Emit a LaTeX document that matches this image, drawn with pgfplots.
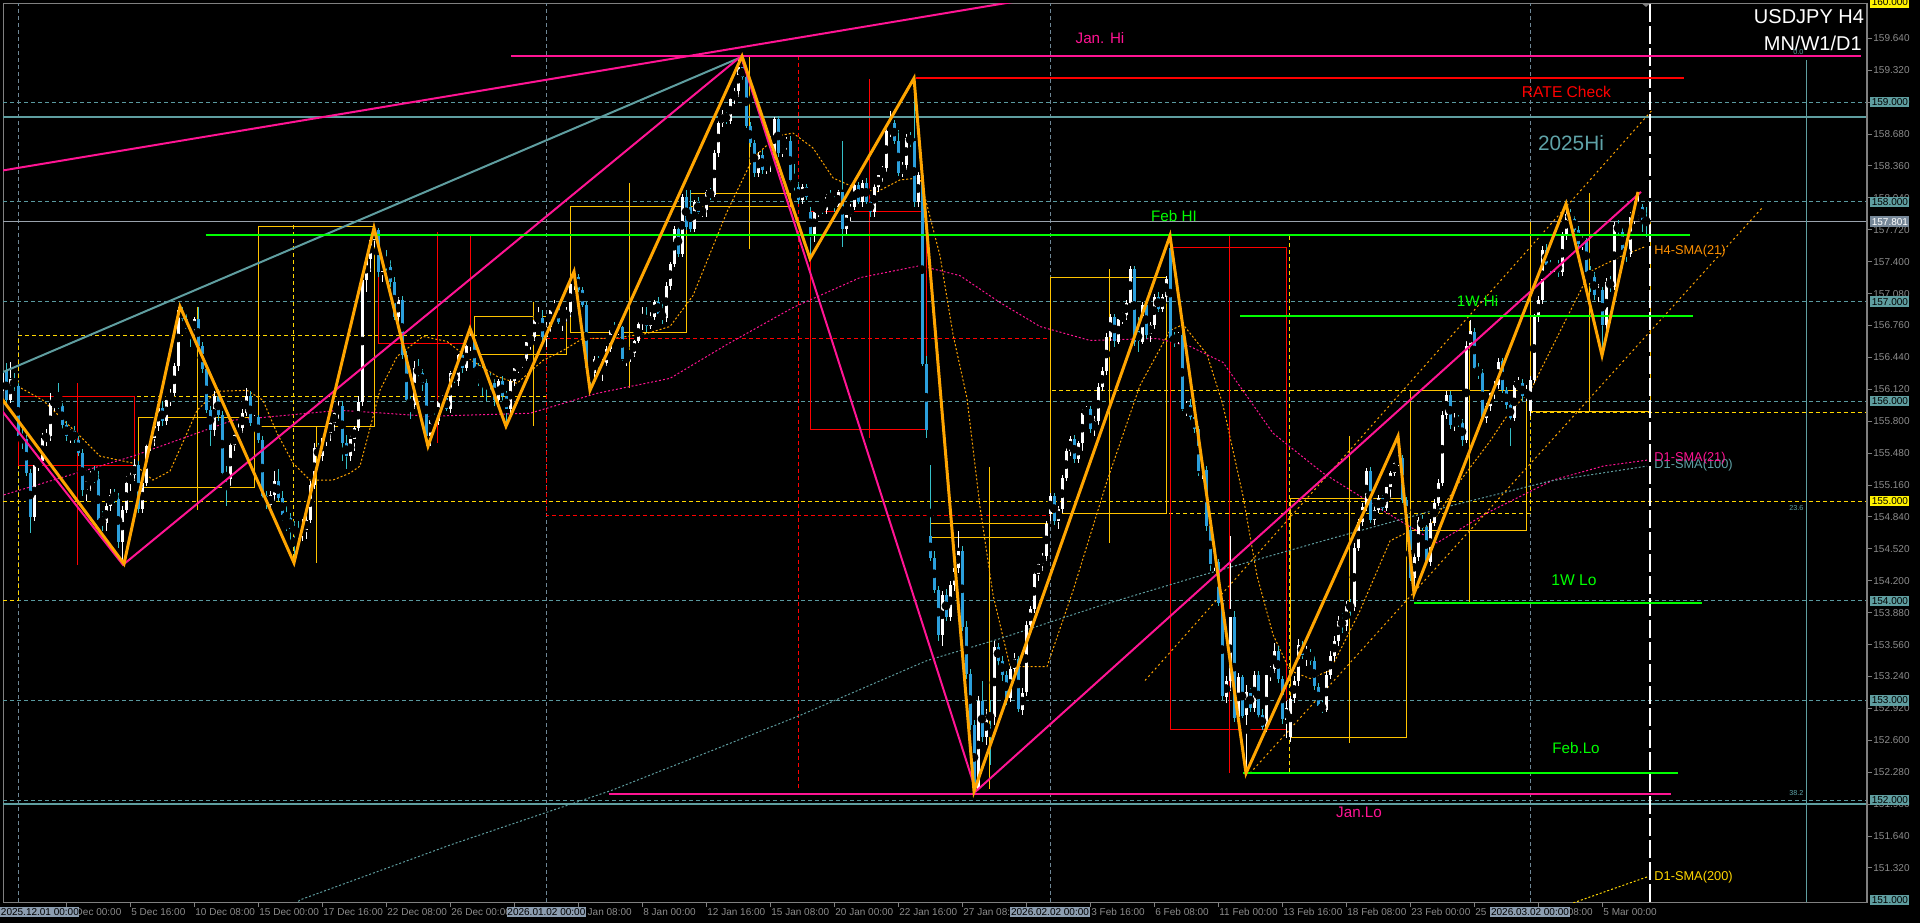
\documentclass[border=0pt]{standalone}
\usepackage{fontspec}
\setmainfont{Liberation Sans}
\usepackage{pgfplots}
\usepackage{pgfplotstable}
\pgfplotsset{compat=1.18}
\newcommand\fs[1]{\fontsize{#1}{#1}\selectfont}
\definecolor{axgray}{HTML}{808080}
\definecolor{tickgray}{HTML}{8C8C8C}
\definecolor{gridteal}{HTML}{5A9AA0}
\definecolor{vgrid}{HTML}{6F8796}
\definecolor{gold}{HTML}{FFD700}
\definecolor{boxgold}{HTML}{FFC400}
\definecolor{zig}{HTML}{FFA500}
\definecolor{dpink}{HTML}{FF1493}
\definecolor{limeg}{HTML}{00FF00}
\definecolor{tealline}{HTML}{5F9EA0}
\definecolor{tealtext}{HTML}{5FA3A8}
\definecolor{bearbody}{HTML}{2B9FDC}
\definecolor{bearwick}{HTML}{35C0C8}
\definecolor{curgray}{HTML}{9AA3AD}
\definecolor{lblteal}{HTML}{5F9EA0}
\definecolor{lblslate}{HTML}{778899}
\definecolor{datebox}{HTML}{8C9DB0}
\definecolor{redc}{HTML}{FF0000}
\definecolor{orangetxt}{HTML}{FF9100}
\pgfplotstableread{
i o h l c
0 156.10 156.35 156.05 156.30
1 156.30 156.38 155.98 156.01
2 156.01 156.40 155.98 156.22
3 156.22 156.28 156.10 156.15
4 156.15 156.18 155.60 155.65
5 155.65 155.72 155.52 155.62
6 155.62 155.66 155.25 155.28
7 155.28 155.32 154.68 154.84
8 154.84 155.40 154.80 155.36
9 155.36 155.45 155.30 155.40
10 155.40 155.68 155.38 155.63
11 155.63 155.72 155.55 155.65
12 155.65 156.08 155.60 155.98
13 155.98 156.05 155.90 156.00
14 156.00 156.18 155.92 155.95
15 155.95 155.98 155.72 155.76
16 155.76 155.80 155.60 155.65
17 155.65 155.72 155.58 155.70
18 155.70 155.75 155.58 155.61
19 155.61 155.65 155.45 155.48
20 155.48 155.52 155.05 155.11
21 155.11 155.22 155.00 155.20
22 155.20 155.30 155.10 155.25
23 155.25 155.35 155.18 155.22
24 155.22 155.30 154.78 154.81
25 154.81 154.90 154.70 154.78
26 154.78 154.98 154.70 154.95
27 154.95 155.12 154.90 155.06
28 155.06 155.12 154.98 155.02
29 155.02 155.08 154.53 154.59
30 154.59 154.95 154.36 154.91
31 154.91 155.25 154.88 155.18
32 155.18 155.33 155.10 155.26
33 155.26 155.42 155.20 155.36
34 155.36 155.40 154.88 154.92
35 154.92 155.22 154.88 155.18
36 155.18 155.58 155.15 155.55
37 155.55 155.68 155.50 155.63
38 155.63 155.78 155.55 155.75
39 155.75 155.98 155.70 155.93
40 155.93 156.00 155.75 155.80
41 155.80 156.05 155.76 156.01
42 156.01 156.12 155.95 156.08
43 156.08 156.38 156.05 156.35
44 156.35 156.95 156.30 156.92
45 156.92 156.95 156.78 156.83
46 156.83 156.88 156.68 156.72
47 156.72 156.78 156.55 156.70
48 156.70 156.85 156.65 156.83
49 156.83 156.95 156.52 156.55
50 156.55 156.60 156.28 156.32
51 156.32 156.35 155.88 155.91
52 155.91 155.95 155.55 155.71
53 155.71 156.10 155.65 156.05
54 156.05 156.12 155.80 155.86
55 155.86 155.90 155.25 155.28
56 155.28 155.35 154.95 155.22
57 155.22 155.60 155.15 155.56
58 155.56 155.70 155.50 155.66
59 155.66 155.78 155.60 155.73
60 155.73 155.92 155.68 155.88
61 155.88 156.13 155.85 156.05
62 156.05 156.10 155.75 155.78
63 155.78 155.86 155.70 155.84
64 155.84 155.86 155.58 155.61
65 155.61 155.65 155.02 155.05
66 155.05 155.10 154.92 154.96
67 154.96 155.10 154.90 155.06
68 155.06 155.30 155.00 155.20
69 155.20 155.32 155.00 155.03
70 155.03 155.10 154.80 154.86
71 154.86 154.95 154.70 154.83
72 154.83 154.88 154.60 154.72
73 154.72 154.80 154.38 154.70
74 154.70 154.80 154.55 154.68
75 154.68 154.82 154.60 154.71
76 154.71 154.85 154.62 154.81
77 154.81 155.20 154.78 155.16
78 155.16 155.58 155.12 155.53
79 155.53 155.58 155.42 155.45
80 155.45 155.65 155.40 155.63
81 155.63 155.72 155.55 155.68
82 155.68 155.82 155.60 155.78
83 155.78 155.92 155.70 155.88
84 155.88 156.00 155.82 155.95
85 155.95 156.00 155.40 155.58
86 155.58 155.66 155.32 155.45
87 155.45 155.68 155.40 155.62
88 155.62 155.75 155.50 155.73
89 155.73 156.05 155.70 155.99
90 155.99 157.25 155.95 157.22
91 157.22 157.45 157.10 157.43
92 157.43 157.65 157.30 157.62
93 157.62 157.76 157.55 157.72
94 157.72 157.74 157.25 157.30
95 157.30 157.42 157.20 157.40
96 157.40 157.52 157.30 157.35
97 157.35 157.42 157.15 157.20
98 157.20 157.25 156.82 156.85
99 156.85 157.05 156.80 157.02
100 157.02 157.06 156.42 156.46
101 156.46 156.50 155.98 156.01
102 156.01 156.05 155.82 155.96
103 155.96 156.40 155.92 156.33
104 156.33 156.42 156.20 156.28
105 156.28 156.32 156.10 156.18
106 156.18 156.22 155.55 155.65
107 155.65 155.82 155.55 155.81
108 155.81 155.90 155.75 155.80
109 155.80 156.02 155.76 156.00
110 156.00 156.06 155.95 156.03
111 156.03 156.06 155.90 155.92
112 155.92 156.30 155.88 156.28
113 156.28 156.35 156.18 156.20
114 156.20 156.48 156.15 156.46
115 156.46 156.50 156.28 156.33
116 156.33 156.62 156.30 156.56
117 156.56 156.73 156.50 156.62
118 156.62 156.65 156.30 156.33
119 156.33 156.38 156.15 156.30
120 156.30 156.35 156.05 156.28
121 156.28 156.32 156.00 156.25
122 156.25 156.28 156.10 156.18
123 156.18 156.22 155.95 156.01
124 156.01 156.22 155.95 156.20
125 156.20 156.25 156.00 156.05
126 156.05 156.10 155.75 155.92
127 155.92 156.22 155.88 156.20
128 156.20 156.35 156.15 156.33
129 156.33 156.40 156.28 156.38
130 156.38 156.45 156.33 156.43
131 156.43 156.62 156.40 156.60
132 156.60 156.66 156.52 156.65
133 156.65 156.85 156.60 156.82
134 156.82 156.95 156.75 156.84
135 156.84 156.92 156.60 156.65
136 156.65 156.80 156.55 156.75
137 156.75 156.95 156.70 156.92
138 156.92 157.02 156.86 156.95
139 156.95 156.98 156.78 156.80
140 156.80 156.90 156.70 156.85
141 156.85 156.95 156.80 156.90
142 156.90 157.20 156.85 157.18
143 157.18 157.30 157.12 157.25
144 157.25 157.28 157.10 157.12
145 157.12 157.15 156.95 156.97
146 156.97 157.00 156.30 156.33
147 156.33 156.36 156.11 156.28
148 156.28 156.45 156.20 156.43
149 156.43 156.46 156.32 156.35
150 156.35 156.42 156.20 156.38
151 156.38 156.56 156.35 156.53
152 156.53 156.75 156.50 156.72
153 156.72 156.80 156.65 156.70
154 156.70 156.78 156.66 156.74
155 156.74 156.76 156.40 156.42
156 156.42 156.50 156.35 156.45
157 156.45 156.55 156.40 156.48
158 156.48 156.62 156.45 156.60
159 156.60 156.80 156.58 156.78
160 156.78 156.95 156.72 156.85
161 156.85 156.95 156.70 156.76
162 156.76 156.90 156.72 156.85
163 156.85 157.02 156.82 157.00
164 157.00 157.05 156.85 156.88
165 156.88 157.00 156.78 156.84
166 156.84 157.20 156.80 157.16
167 157.16 157.40 157.12 157.38
168 157.38 157.76 157.35 157.73
169 157.73 157.78 157.45 157.48
170 157.48 158.08 157.45 158.05
171 158.05 158.12 157.72 157.75
172 157.95 158.12 157.70 157.73
173 157.73 158.02 157.70 158.00
174 158.00 158.05 157.88 157.90
175 157.90 157.95 157.85 157.92
176 157.92 158.12 157.85 158.10
177 158.10 158.14 158.02 158.07
178 158.07 158.52 158.05 158.49
179 158.49 158.82 158.45 158.79
180 158.79 158.92 158.75 158.88
181 158.88 158.92 158.78 158.81
182 158.81 159.05 158.78 159.03
183 159.03 159.14 158.98 159.11
184 159.11 159.45 159.05 159.35
185 159.35 159.46 159.22 159.25
186 159.25 159.33 158.74 158.76
187 158.76 158.80 158.55 158.59
188 158.59 158.62 158.25 158.29
189 158.29 158.50 158.25 158.47
190 158.47 158.52 158.28 158.32
191 158.32 158.42 158.28 158.39
192 158.39 158.66 158.30 158.42
193 158.42 158.85 158.40 158.83
194 158.83 158.86 158.45 158.49
195 158.49 158.60 158.45 158.57
196 158.57 158.65 158.52 158.61
197 158.61 158.66 158.18 158.22
198 158.22 158.38 158.10 158.15
199 158.15 158.20 157.98 158.02
200 158.02 158.18 157.98 158.15
201 158.15 158.18 158.02 158.05
202 157.90 157.95 157.43 157.68
203 157.68 157.92 157.60 157.90
204 157.90 157.97 157.85 157.95
205 157.95 158.00 157.88 157.92
206 157.92 158.08 157.88 158.05
207 158.05 158.12 157.98 158.02
208 158.02 158.06 157.90 157.95
209 157.95 158.12 157.90 158.10
210 158.10 158.61 157.55 157.73
211 157.73 157.92 157.68 157.87
212 157.87 157.98 157.80 157.95
213 157.95 158.18 157.92 158.17
214 158.17 158.20 157.98 158.00
215 158.00 158.22 157.95 158.19
216 158.19 158.24 157.98 158.00
217 158.00 158.05 157.85 157.90
218 157.90 158.18 157.85 158.15
219 158.15 158.30 158.10 158.27
220 158.27 158.36 158.20 158.34
221 158.34 158.74 158.30 158.71
222 158.71 158.91 158.65 158.79
223 158.79 158.82 158.58 158.61
224 158.61 158.72 158.26 158.29
225 158.29 158.40 158.25 158.37
226 158.37 158.68 158.32 158.64
227 158.64 158.70 158.55 158.61
228 158.61 159.24 157.95 158.00
229 158.00 158.30 157.95 158.27
230 158.27 158.32 156.35 156.37
231 156.37 156.45 155.63 155.71
232 154.65 155.36 154.40 154.43
233 154.43 154.50 154.08 154.11
234 154.11 154.15 153.60 153.66
235 153.66 154.10 153.55 154.06
236 154.06 154.12 153.80 153.84
237 153.84 154.20 153.80 154.16
238 154.16 154.38 154.10 154.33
239 154.33 154.70 154.28 154.50
240 154.50 154.55 153.70 153.74
241 153.74 153.80 153.22 153.27
242 153.27 153.32 152.70 152.75
243 152.75 152.80 152.09 152.11
244 152.11 153.05 152.10 153.00
245 153.00 153.20 152.58 152.63
246 152.63 152.92 152.55 152.85
247 152.85 153.00 152.35 152.83
248 152.83 153.60 152.75 153.54
249 153.54 153.58 153.35 153.40
250 153.40 153.45 153.20 153.26
251 153.26 153.30 152.95 153.02
252 153.02 153.38 152.98 153.32
253 153.32 153.48 153.28 153.42
254 153.42 153.45 152.88 152.91
255 152.91 153.12 152.85 153.08
256 153.08 153.80 153.05 153.76
257 153.76 153.95 153.70 153.92
258 153.92 154.30 153.88 154.27
259 154.27 154.40 154.20 154.37
260 154.37 154.48 154.30 154.45
261 154.45 154.80 154.40 154.77
262 154.87 155.08 154.80 155.05
263 155.05 155.08 154.76 154.80
264 154.80 154.95 154.72 154.92
265 154.92 155.26 154.88 155.23
266 155.23 155.53 155.20 155.50
267 155.50 155.65 155.45 155.62
268 155.62 155.66 155.38 155.42
269 155.42 155.60 155.38 155.58
270 155.58 155.92 155.50 155.88
271 155.88 155.95 155.80 155.92
272 155.92 155.95 155.68 155.72
273 155.72 155.85 155.65 155.80
274 155.80 156.18 155.76 156.14
275 156.14 156.34 156.10 156.30
276 156.30 156.68 156.26 156.65
277 156.65 156.88 156.60 156.85
278 156.85 156.88 156.55 156.60
279 156.60 156.85 156.58 156.83
280 156.83 156.90 156.78 156.87
281 156.87 157.02 156.82 156.99
282 156.99 157.36 156.95 157.33
283 157.33 157.36 156.55 156.59
284 156.70 156.85 156.50 156.60
285 156.60 157.00 156.58 156.97
286 156.97 157.00 156.62 156.67
287 156.67 156.80 156.60 156.77
288 156.77 157.08 156.72 157.05
289 157.05 157.10 156.90 156.93
290 156.93 157.08 156.90 157.05
291 157.05 157.26 157.00 157.23
292 157.54 157.66 156.60 156.63
293 156.63 156.70 156.55 156.62
294 156.62 156.70 156.58 156.66
295 156.66 156.70 155.90 155.92
296 155.92 156.00 155.85 155.96
297 155.96 156.02 155.80 155.84
298 155.84 155.90 155.68 155.72
299 155.72 155.75 155.25 155.30
300 155.30 155.42 155.22 155.31
301 155.31 155.35 154.70 154.75
302 154.75 154.80 154.30 154.37
303 154.37 154.45 154.30 154.39
304 154.39 154.42 153.95 153.98
305 153.98 154.02 153.00 153.04
306 153.04 153.25 152.98 153.20
307 153.20 154.65 153.10 153.84
308 153.84 153.90 152.78 152.83
309 152.83 153.28 152.80 153.24
310 153.24 153.26 152.82 152.85
311 152.85 153.15 152.27 153.08
312 153.08 153.12 152.88 152.93
313 152.93 153.30 152.88 153.26
314 153.26 153.30 152.82 152.85
315 152.85 152.92 152.70 152.73
316 152.73 153.30 152.68 153.26
317 153.26 153.35 153.20 153.32
318 153.32 153.58 153.28 153.50
319 153.50 153.55 153.18 153.22
320 153.22 153.25 152.76 152.81
321 152.81 153.00 152.62 152.93
322 152.63 153.05 152.58 153.02
323 153.02 153.25 152.98 153.20
324 153.20 153.62 153.15 153.56
325 153.56 153.60 153.42 153.46
326 153.46 153.55 153.35 153.48
327 153.48 153.52 153.36 153.40
328 153.40 153.45 153.10 153.14
329 153.14 153.18 152.92 152.95
330 152.95 153.00 152.88 152.91
331 152.91 153.30 152.88 153.26
332 153.26 153.50 153.22 153.45
333 153.45 153.65 153.40 153.60
334 153.60 153.85 153.55 153.80
335 153.80 153.88 153.68 153.75
336 153.75 154.00 153.70 153.95
337 153.95 154.02 153.85 153.94
338 153.94 154.58 153.90 154.53
339 154.53 154.82 154.50 154.79
340 154.79 154.98 154.75 154.94
341 154.94 155.33 154.90 155.30
342 155.30 155.34 154.78 154.81
343 154.81 154.95 154.76 154.91
344 154.91 155.06 154.88 155.03
345 155.03 155.06 154.90 154.93
346 154.93 155.16 154.90 155.14
347 155.14 155.30 155.02 155.28
348 155.28 155.42 155.25 155.38
349 155.38 155.65 155.35 155.43
350 155.43 155.46 154.98 155.01
351 155.01 155.04 154.78 154.81
352 154.71 154.75 154.20 154.23
353 154.23 154.48 154.07 154.44
354 154.44 154.84 154.40 154.81
355 154.81 154.86 154.70 154.74
356 154.74 154.76 154.36 154.39
357 154.39 154.82 154.35 154.78
358 154.78 155.02 154.75 154.98
359 154.98 155.22 154.95 155.18
360 155.18 155.90 155.15 155.86
361 155.86 156.10 155.82 156.06
362 156.06 156.10 155.72 155.76
363 155.76 155.88 155.70 155.83
364 155.83 155.86 155.74 155.78
365 155.78 155.82 155.55 155.61
366 155.61 156.60 155.58 156.56
367 156.56 156.82 156.50 156.70
368 156.70 156.74 156.30 156.33
369 156.33 156.38 156.22 156.28
370 156.28 156.32 155.80 155.83
371 155.83 155.98 155.78 155.95
372 155.95 156.12 155.90 156.08
373 156.08 156.20 156.02 156.16
374 156.16 156.44 156.12 156.40
375 156.40 156.44 156.08 156.11
376 156.11 156.14 155.92 155.96
377 155.96 156.00 155.55 155.83
378 155.83 156.20 155.80 156.16
379 156.16 156.24 156.10 156.18
380 156.18 156.22 156.00 156.05
381 156.05 156.16 156.00 156.11
382 155.90 156.25 155.85 156.21
383 156.21 156.88 156.18 156.85
384 156.85 157.06 156.80 157.02
385 157.02 157.56 156.98 157.52
386 157.52 157.58 157.34 157.37
387 157.37 157.42 157.28 157.33
388 157.33 157.40 157.30 157.38
389 157.38 157.42 157.25 157.30
390 157.30 157.70 157.26 157.67
391 157.67 157.98 157.62 157.88
392 157.88 157.93 157.76 157.83
393 157.83 157.86 157.70 157.72
394 157.72 157.76 157.55 157.58
395 157.58 157.66 157.52 157.62
396 157.62 157.64 157.28 157.30
397 157.30 157.36 157.10 157.25
398 157.25 157.30 157.02 157.07
399 157.07 157.18 157.00 157.12
400 157.12 157.15 156.46 156.77
401 156.77 157.24 156.70 157.20
402 157.20 157.26 157.10 157.15
403 157.15 157.80 157.12 157.77
404 157.77 157.82 157.66 157.70
405 157.70 157.74 157.45 157.52
406 157.52 157.58 157.40 157.48
407 157.48 157.90 157.45 157.85
408 157.85 157.92 157.78 157.88
409 157.88 158.10 157.82 157.95
410 157.95 157.98 157.70 157.82
411 157.82 157.95 157.65 157.80
}\candles
\begin{document}
\begin{tikzpicture}
\fill[black] (0,0) rectangle (960pt,461.5pt);
\useasboundingbox (0,0) rectangle (960pt,461.5pt);
\begin{axis}[
  at={(1.5pt,10.5pt)}, anchor=origin,
  x=2pt, y=49.86pt,
  xmin=0.25, xmax=466.25, ymin=150.9788, ymax=159.994,
  clip mode=individual,
  axis line style={draw=axgray, line width=0.5pt},
  xtick pos=bottom, ytick pos=right, yticklabel pos=right,
  tick align=outside, major tick length=2.5pt,
  tick style={draw=axgray, line width=0.5pt},
  xtick={0,16,...,400},
  xticklabels={{},3 Dec 00:00,5 Dec 16:00,10 Dec 08:00,15 Dec 00:00,17 Dec 16:00,22 Dec 08:00,26 Dec 00:00,30 Dec 16:00,5 Jan 08:00,8 Jan 00:00,12 Jan 16:00,15 Jan 08:00,20 Jan 00:00,22 Jan 16:00,27 Jan 08:00,30 Jan 00:00,3 Feb 16:00,6 Feb 08:00,11 Feb 00:00,13 Feb 16:00,18 Feb 08:00,23 Feb 00:00,25 Feb 16:00,2 Mar 08:00,5 Mar 00:00},
  ytick={151.32,151.64,151.96,152.28,152.60,152.92,153.24,153.56,153.88,154.20,154.52,154.84,155.16,155.48,155.80,156.12,156.44,156.76,157.08,157.40,157.72,158.04,158.36,158.68,159.00,159.32,159.64},
  yticklabels={151.320,151.640,151.960,152.280,152.600,152.920,153.240,153.560,153.880,154.200,154.520,154.840,155.160,155.480,155.800,156.120,156.440,156.760,157.080,157.400,157.720,158.040,158.360,158.680,159.000,159.320,159.640},
  ticklabel style={font=\fs{5}, text=tickgray, inner sep=0.5pt},
  xticklabel style={anchor=north west},
  yticklabel style={anchor=west},
  /pgf/number format/assume math mode=true,
]
% ---- grid lines
\pgfplotsinvokeforeach{152,153,154,156,157,158,159}{
  \addplot[gridteal, line width=0.5pt, dash pattern=on 2pt off 1.5pt] coordinates {(0.25,#1)(466.25,#1)};
}
\addplot[gold, line width=0.5pt, dash pattern=on 2pt off 1.5pt] coordinates {(0.25,155)(466.25,155)};
\pgfplotsinvokeforeach{4,136.1,262,382}{
  \addplot[vgrid, line width=0.5pt, dash pattern=on 2pt off 1.5pt] coordinates {(#1,150.9788)(#1,159.994)};
}
% ---- monthly boxes (dashed)
\addplot[gold, line width=0.5pt, dash pattern=on 2pt off 1.5pt] coordinates {(4,156.05)(136,156.05)(136,156.66)(4,156.66)(4,154.0)(0.25,154.0)};
\addplot[gold, line width=0.5pt, dash pattern=on 2pt off 1.5pt] coordinates {(72.75,157.77)(72.75,154.36)};
\addplot[redc, line width=0.5pt, dash pattern=on 2pt off 1.5pt] coordinates {(136,156.63)(262,156.63)(262,154.85)(136,154.85)(136,156.63)};
\addplot[redc, line width=0.5pt, dash pattern=on 2pt off 1.5pt] coordinates {(199,159.46)(199,152.09)};
\addplot[gold, line width=0.5pt, dash pattern=on 2pt off 1.5pt] coordinates {(262,154.87)(382,154.87)(382,156.11)(262,156.11)(262,154.87)};
\addplot[gold, line width=0.5pt, dash pattern=on 2pt off 1.5pt] coordinates {(321.75,157.66)(321.75,152.26)};
\addplot[gold, line width=0.5pt, dash pattern=on 2pt off 1.5pt] coordinates {(382,157.80)(382,155.89)(466.25,155.89)};
% ---- weekly boxes
\addplot[redc, line width=0.5pt] coordinates {(4,156.05)(33.1,156.05)(33.1,155.36)(4,155.36)(4,156.05)};
\addplot[redc, line width=0.5pt] coordinates {(18.8,156.18)(18.8,154.36)};
\addplot[boxgold, line width=0.5pt] coordinates {(34.1,155.84)(63.1,155.84)(63.1,155.14)(34.1,155.14)(34.1,155.84)};
\addplot[boxgold, line width=0.5pt] coordinates {(48.9,156.95)(48.9,154.91)};
\addplot[boxgold, line width=0.5pt] coordinates {(64.1,155.75)(93.1,155.75)(93.1,157.75)(64.1,157.75)(64.1,155.75)};
\addplot[boxgold, line width=0.5pt] coordinates {(78.7,155.75)(78.7,154.38)};
\addplot[redc, line width=0.5pt] coordinates {(94.1,157.67)(117.2,157.67)(117.2,156.58)(94.1,156.58)(94.1,157.67)};
\addplot[redc, line width=0.5pt] coordinates {(108.8,157.70)(108.8,155.58)};
\addplot[boxgold, line width=0.5pt] coordinates {(118,156.47)(141.2,156.47)(141.2,156.85)(118,156.85)(118,156.47)};
\addplot[boxgold, line width=0.5pt] coordinates {(132.75,157.0)(132.75,155.75)};
\addplot[boxgold, line width=0.5pt] coordinates {(142,156.69)(171.2,156.69)(171.2,157.95)(142,157.95)(142,156.69)};
\addplot[boxgold, line width=0.5pt] coordinates {(156.75,158.19)(156.75,156.13)};
\addplot[boxgold, line width=0.5pt] coordinates {(172,157.95)(197,157.95)(197,158.08)(172,158.08)(172,157.95)};
\addplot[boxgold, line width=0.5pt] coordinates {(186.8,159.45)(186.8,157.53)};
\addplot[redc, line width=0.5pt] coordinates {(202.2,157.90)(231.2,157.90)(231.2,155.72)(202.2,155.72)(202.2,157.90)};
\addplot[redc, line width=0.5pt] coordinates {(216.8,159.23)(216.8,155.63)};
\addplot[boxgold, line width=0.5pt] coordinates {(232,154.63)(261.25,154.63)(261.25,154.77)(232,154.77)(232,154.63)};
\addplot[boxgold, line width=0.5pt] coordinates {(246.8,155.34)(246.8,152.11)};
\addplot[boxgold, line width=0.5pt] coordinates {(262,154.87)(291.2,154.87)(291.2,157.24)(262,157.24)(262,154.87)};
\addplot[boxgold, line width=0.5pt] coordinates {(276.75,157.33)(276.75,154.58)};
\addplot[redc, line width=0.5pt] coordinates {(292,157.54)(321.2,157.54)(321.2,152.71)(292,152.71)(292,157.54)};
\addplot[redc, line width=0.5pt] coordinates {(306.8,157.66)(306.8,152.27)};
\addplot[boxgold, line width=0.5pt] coordinates {(322,152.63)(351.2,152.63)(351.2,155.03)(322,155.03)(322,152.63)};
\addplot[boxgold, line width=0.5pt] coordinates {(336.75,155.65)(336.75,152.57)};
\addplot[boxgold, line width=0.5pt] coordinates {(352,154.70)(381.2,154.70)(381.2,156.11)(352,156.11)(352,154.70)};
\addplot[boxgold, line width=0.5pt] coordinates {(366.75,156.81)(366.75,153.98)};
\addplot[boxgold, line width=0.5pt] coordinates {(382.2,155.90)(412,155.90)(412,157.80)(382.2,157.80)(382.2,155.90)};
\addplot[boxgold, line width=0.5pt] coordinates {(396.8,158.09)(396.8,155.90)};
% ---- fixed level lines
\addplot[tealline, line width=1pt] coordinates {(0.25,158.85)(466.25,158.85)};
\addplot[tealline, line width=1pt] coordinates {(0.25,151.96)(466.25,151.96)};
\addplot[curgray, line width=0.5pt] coordinates {(0.25,157.80)(466.25,157.80)};
\addplot[tealline, line width=0.5pt] coordinates {(451.1,159.42)(451.1,150.9788)};
\addplot[white, line width=0.6pt, dash pattern=on 9pt off 2pt] coordinates {(412,150.9788)(412,159.994)};
% ---- moving averages (dotted)
\addplot[zig, line width=0.5pt, dash pattern=on 1pt off 1pt] coordinates {
(1.25,156.21)(10.25,156.01)(18.75,155.68)(24.5,155.45)(32.75,155.38)(37.75,155.21)(42,155.30)(46.25,155.68)(48.75,155.91)(53.75,156.10)(61.25,156.11)(65.25,156.01)(68.75,155.68)(72.75,155.38)(77,155.21)(82.75,155.21)(87,155.28)(89.5,155.35)(94.5,156.11)(98.75,156.45)(105.25,156.65)(111.25,156.60)(117,156.42)(123.75,156.25)(128.75,156.18)(135.25,156.41)(140.25,156.51)(145.25,156.63)(152.75,156.63)(161.25,156.68)(167,156.75)(172.75,157.06)(181.25,157.90)(187.75,158.44)(193.75,158.66)(197.75,158.69)(202.75,158.54)(207.75,158.24)(212.75,158.15)(218.75,158.10)(224.5,158.22)(229.5,158.24)(234.5,157.46)(237.75,156.67)(241.25,156.03)(244.5,154.94)(247.75,154.06)(252,153.34)(261.25,153.34)(267.75,154.10)(276.25,155.20)(284.5,156.16)(292,156.71)(295.25,156.77)(301.25,156.47)(305.25,155.96)(310.25,155.05)(313.75,154.25)(317.75,153.66)(322,153.30)(327,153.22)(332,153.30)(339.5,153.90)(347,154.60)(352,154.70)(357,154.75)(364.5,155.20)(372,155.60)(377,155.90)(382,156.10)(389.5,156.70)(397,157.30)(404.5,157.45)(410.75,157.55)};
\addplot[dpink, line width=0.5pt, dash pattern=on 1pt off 1pt] coordinates {
(-0.5,155.05)(32.75,155.45)(57.75,155.81)(84.5,155.91)(107,155.85)(132,155.88)(148.75,156.08)(167,156.23)(181.25,156.57)(197.75,156.94)(214.5,157.24)(229.5,157.36)(239.5,157.26)(249.5,156.99)(259.5,156.75)(272,156.61)(288.75,156.63)(297,156.55)(305.25,156.39)(317.75,155.68)(330.25,155.28)(346.25,154.88)(358.75,154.58)(371.25,154.88)(381.25,155.08)(387.75,155.21)(400.25,155.35)(411.25,155.41)};
\addplot[tealline, line width=0.5pt, dash pattern=on 1pt off 1pt] coordinates {
(67,150.70)(74.5,151.0)(112,151.55)(152.5,152.1)(174.5,152.45)(199.5,152.85)(231.25,153.4)(249.5,153.62)(274.5,153.95)(299.5,154.25)(332,154.62)(362,154.95)(387,155.2)(411.25,155.35)};
\addplot[gold, line width=0.5pt, dash pattern=on 1pt off 1pt] coordinates {(390,150.93)(402,151.1)(411.25,151.23)};
% ---- channel lines
\addplot[zig, line width=0.5pt, dash pattern=on 1pt off 1.5pt] coordinates {(285.75,153.2)(412.75,158.93)};
\addplot[zig, line width=0.5pt, dash pattern=on 1pt off 1.5pt] coordinates {(312,152.27)(440.25,157.95)};
% ---- candles: wicks
\addplot[only marks, mark=none,
  restrict expr to domain={\thisrow{c}-\thisrow{o}}{-0.00001:100},
  error bars/.cd, y dir=both, y explicit, error mark=none,
  error bar style={draw=white, line width=0.5pt}]
  table[x=i, y expr={(\thisrow{h}+\thisrow{l})/2}, y error expr={(\thisrow{h}-\thisrow{l})/2}] {\candles};
\addplot[only marks, mark=none,
  restrict expr to domain={\thisrow{c}-\thisrow{o}}{-100:-0.00001},
  error bars/.cd, y dir=both, y explicit, error mark=none,
  error bar style={draw=bearwick, line width=0.5pt}]
  table[x=i, y expr={(\thisrow{h}+\thisrow{l})/2}, y error expr={(\thisrow{h}-\thisrow{l})/2}] {\candles};
% ---- candles: bodies
\addplot[only marks, mark=none,
  restrict expr to domain={\thisrow{c}-\thisrow{o}}{-0.00001:100},
  error bars/.cd, y dir=both, y explicit, error mark=none,
  error bar style={draw=white, line width=1.5pt}]
  table[x=i, y expr={(\thisrow{o}+\thisrow{c})/2}, y error expr={max(abs(\thisrow{c}-\thisrow{o})/2,0.006)}] {\candles};
\addplot[only marks, mark=none,
  restrict expr to domain={\thisrow{c}-\thisrow{o}}{-100:-0.00001},
  error bars/.cd, y dir=both, y explicit, error mark=none,
  error bar style={draw=bearbody, line width=1.5pt}]
  table[x=i, y expr={(\thisrow{o}+\thisrow{c})/2}, y error expr={max(abs(\thisrow{c}-\thisrow{o})/2,0.006)}] {\candles};
% ---- trend lines
\addplot[tealline, line width=1pt] coordinates {(-0.5,156.28)(184.75,159.45)};
\addplot[dpink, line width=1pt] coordinates {(-0.5,158.31)(255,160.02)};
\addplot[dpink, line width=1pt] coordinates {(127.2,159.46)(464.7,159.46)};
\addplot[dpink, line width=1pt] coordinates {(-0.5,155.93)(30.25,154.36)(184.75,159.46)(243.5,152.09)(409.75,158.10)};
\addplot[dpink, line width=1pt] coordinates {(151.65,152.06)(417.25,152.06)};
\addplot[limeg, line width=1pt] coordinates {(50.9,157.67)(422,157.67)};
\addplot[limeg, line width=1pt] coordinates {(309.5,156.86)(422.75,156.86)};
\addplot[limeg, line width=1pt] coordinates {(353,153.98)(425,153.98)};
\addplot[limeg, line width=1pt] coordinates {(310.25,152.27)(419,152.27)};
\addplot[redc, line width=1pt] coordinates {(228.5,159.24)(420.5,159.24)};
\addplot[zig, line width=1.5pt] coordinates {(-0.5,156.05)(30.5,154.37)(44.5,156.95)(73,154.38)(93,157.74)(106.5,155.55)(117,156.73)(126,155.75)(143,157.30)(147,156.11)(185,159.46)(202,157.43)(228,159.24)(243,152.09)(292,157.66)(311,152.27)(349,155.65)(353,154.07)(391,157.98)(400,156.46)(409,158.10)};
% ---- text
\node[text=dpink, font=\fs{7.6}] at (axis cs:274.5,159.64) {Jan. Hi};
\node[anchor=east, text=redc, font=\fs{7.8}] at (axis cs:404,159.10) {RATE Check};
\node[anchor=east, text=tealtext, font=\fs{10.4}] at (axis cs:402.25,158.59) {2025Hi};
\node[text=limeg, font=\fs{7.6}] at (axis cs:293,157.86) {Feb HI};
\node[text=limeg, font=\fs{7.6}] at (axis cs:368.9,157.01) {1W Hi};
\node[text=limeg, font=\fs{7.8}] at (axis cs:393,154.21) {1W Lo};
\node[text=limeg, font=\fs{7.6}] at (axis cs:393.5,152.52) {Feb.Lo};
\node[text=dpink, font=\fs{7.6}] at (axis cs:339.25,151.88) {Jan.Lo};
\node[anchor=west, text=orangetxt, font=\fs{6.4}, inner sep=0pt] at (axis cs:413,157.51) {H4-SMA(21)};
\node[anchor=west, text=tealtext, font=\fs{6.4}, inner sep=0pt] at (axis cs:413,155.36) {D1-SMA(100)};
\node[anchor=west, text=dpink, font=\fs{6.4}, inner sep=0pt] at (axis cs:413,155.43) {D1-SMA(21)};
\node[anchor=west, text=gold, font=\fs{6.4}, inner sep=0pt] at (axis cs:413,151.23) {D1-SMA(200)};
\node[anchor=east, text=white, font=\fs{10}, inner sep=0pt] at (axis cs:465.6,159.86) {USDJPY H4};
\node[anchor=east, text=white, font=\fs{10}, inner sep=0pt] at (axis cs:465.0,159.59) {MN/W1/D1};
\node[anchor=east, text=tealtext, font=\fs{3.6}, inner sep=0.3pt] at (axis cs:450.6,159.50) {0.0};
\node[anchor=east, text=tealtext, font=\fs{3.6}, inner sep=0.3pt] at (axis cs:450.6,154.93) {23.6};
\node[anchor=east, text=tealtext, font=\fs{3.6}, inner sep=0.3pt] at (axis cs:450.6,152.07) {38.2};
\fill[axgray] (axis cs:409.8,159.994) -- (axis cs:412.2,159.994) -- (axis cs:411,159.955) -- cycle;
% anchors for highlighted labels
\coordinate (R160) at (axis cs:466.25,160.0);
\coordinate (R159) at (axis cs:466.25,159.0);
\coordinate (R158) at (axis cs:466.25,158.0);
\coordinate (R1578) at (axis cs:466.25,157.801);
\coordinate (R157) at (axis cs:466.25,157.0);
\coordinate (R156) at (axis cs:466.25,156.0);
\coordinate (R155) at (axis cs:466.25,155.0);
\coordinate (R154) at (axis cs:466.25,154.0);
\coordinate (R153) at (axis cs:466.25,153.0);
\coordinate (R152) at (axis cs:466.25,152.0);
\coordinate (R151) at (axis cs:466.25,151.0);
\coordinate (D1) at (axis cs:-0.5,150.9788);
\coordinate (D2) at (axis cs:136.1,150.9788);
\coordinate (D3) at (axis cs:262,150.9788);
\coordinate (D4) at (axis cs:382,150.9788);
\coordinate (RB) at (axis cs:466.25,150.9788);
\coordinate (RT) at (axis cs:466.25,159.994);
\end{axis}
\draw[axgray, line width=1pt] (RB) -- (RT);
\tikzset{plab/.style={anchor=west, xshift=1.5pt, font=\fs{5}, inner sep=0.3pt, minimum width=19.5pt, minimum height=5.2pt}}
\foreach \c/\t in {R159/159.000,R158/158.000,R157/157.000,R156/156.000,R154/154.000,R153/153.000,R152/152.000,R151/151.000}{
  \node[plab, fill=lblteal, text=black] at (\c) {\t};
}
\node[plab, fill=yellow, text=black] at (R160) {160.000};
\node[plab, fill=yellow, text=black] at (R155) {155.000};
\node[plab, fill=lblslate, text=white] at (R1578) {157.801};
\tikzset{dlab/.style={yshift=-5pt, font=\fs{5}, inner sep=0.3pt, minimum width=38.5pt, minimum height=5pt, fill=datebox, text=black}}
\node[dlab, anchor=west] at (D1) {2025.12.01 00:00};
\node[dlab] at (D2) {2026.01.02 00:00};
\node[dlab] at (D3) {2026.02.02 00:00};
\node[dlab] at (D4) {2026.03.02 00:00};
\end{tikzpicture}
\end{document}
